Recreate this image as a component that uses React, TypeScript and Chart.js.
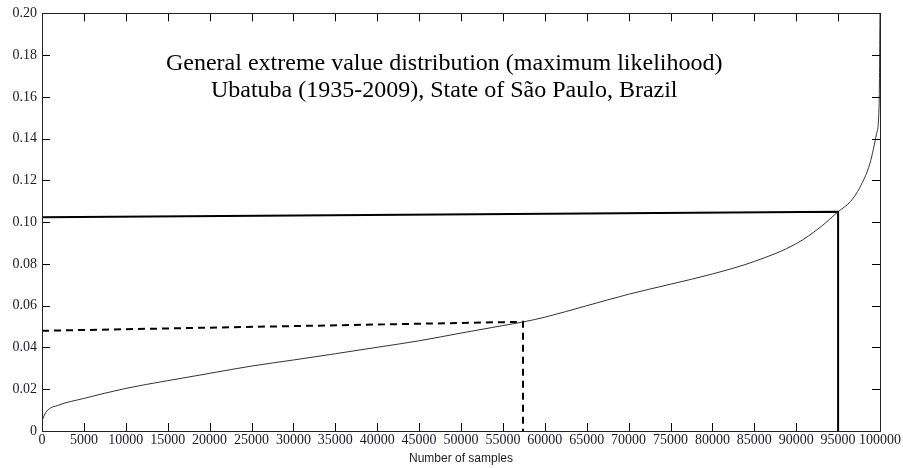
import React, { useEffect, useRef } from "react";
import { Chart, registerables } from "chart.js";

Chart.register(...registerables);

// ---- data ----
const curveX = [0, 500, 2000, 5000, 10000, 15000, 20000, 25000, 30000, 35000, 40000, 45000, 50000, 55000, 57500, 60000, 65000, 70000, 75000, 80000, 85000, 90000, 93000, 95000, 96500, 97600, 98800, 99600, 99900, 100000];
const curveY = [0.005, 0.0092, 0.0124, 0.0156, 0.0204, 0.0241, 0.0276, 0.0311, 0.034, 0.037, 0.0401, 0.0432, 0.0469, 0.0505, 0.0523, 0.0545, 0.06, 0.0655, 0.0703, 0.0752, 0.0812, 0.0897, 0.098, 0.105, 0.11, 0.1167, 0.1282, 0.1426, 0.157, 0.2];

const solidX = [0, 95000, 95000];
const solidY = [0.1024, 0.105, 0];

const dashedX = [0, 57400, 57400];
const dashedY = [0.048, 0.0523, 0];

const xTickStep = 5000;
const yTickStep = 0.02;
const xMax = 100000;
const yMax = 0.2;

const titleLines = [
  "General extreme value distribution (maximum likelihood)",
  "Ubatuba (1935-2009), State of São Paulo, Brazil",
];
const xAxisTitle = "Number of samples";

const toPoints = (xs: number[], ys: number[]) => xs.map((x, i) => ({ x, y: ys[i] }));

const boxPlugin = {
  id: "matlabBox",
  afterDraw(chart: any) {
    const { ctx, chartArea } = chart;
    const xs = chart.scales.x;
    const ys = chart.scales.y;
    const { left, right, top, bottom } = chartArea;
    ctx.save();
    ctx.strokeStyle = "#000";
    ctx.lineWidth = 1;
    // inward ticks
    const tl = 8;
    ctx.beginPath();
    xs.ticks.forEach((t: any) => {
      const px = Math.round(xs.getPixelForValue(t.value)) + 0.5;
      ctx.moveTo(px, bottom);
      ctx.lineTo(px, bottom - tl);
      ctx.moveTo(px, top);
      ctx.lineTo(px, top + tl);
    });
    ys.ticks.forEach((t: any) => {
      const py = Math.round(ys.getPixelForValue(t.value)) + 0.5;
      ctx.moveTo(left, py);
      ctx.lineTo(left + tl, py);
      ctx.moveTo(right, py);
      ctx.lineTo(right - tl, py);
    });
    ctx.stroke();
    // box
    ctx.strokeStyle = "#222";
    ctx.strokeRect(Math.round(left) + 0.5, Math.round(top) + 0.5, Math.round(right - left), Math.round(bottom - top));
    // title
    ctx.fillStyle = "#000";
    ctx.font = "24px 'Liberation Serif'";
    ctx.textAlign = "center";
    ctx.textBaseline = "alphabetic";
    const cx = xs.getPixelForValue(48000);
    ctx.fillText(titleLines[0], cx, 70);
    ctx.fillText(titleLines[1], cx, 97);
    // x axis title
    ctx.font = "12px 'Liberation Sans'";
    ctx.fillStyle = "#222";
    ctx.fillText(xAxisTitle, (left + right) / 2, 462);
    ctx.restore();
  },
};

export default function App() {
  const ref = useRef<HTMLCanvasElement | null>(null);
  useEffect(() => {
    document.body.style.margin = "0";
    const canvas = ref.current!;
    const chart = new Chart(canvas, {
      type: "line",
      data: {
        datasets: [
          {
            data: toPoints(curveX, curveY),
            borderColor: "#333",
            borderWidth: 1,
            pointRadius: 0,
            cubicInterpolationMode: "monotone",
            fill: false,
          },
          {
            data: toPoints(solidX, solidY),
            borderColor: "#000",
            borderWidth: 2,
            pointRadius: 0,
            fill: false,
          },
          {
            data: toPoints(dashedX, dashedY),
            borderColor: "#000",
            borderWidth: 2,
            borderDash: [7, 5],
            pointRadius: 0,
            fill: false,
          },
        ],
      },
      options: {
        animation: false,
        responsive: false,
        parsing: false,
        layout: { padding: { top: 13, right: 23, left: 0, bottom: 0 } },
        plugins: { legend: { display: false }, tooltip: { enabled: false }, title: { display: false } },
        scales: {
          x: {
            type: "linear",
            min: 0,
            max: xMax,
            grid: { display: false, drawTicks: false },
            border: { display: false },
            ticks: {
              stepSize: xTickStep,
              autoSkip: false,
              maxRotation: 0,
              padding: 1,
              color: "#1a1a2a",
              font: { family: "'Liberation Serif'", size: 14 },
              callback: (v: any) => String(v),
            },
            afterFit: (s: any) => {
              s.height = 37;
            },
          },
          y: {
            type: "linear",
            min: 0,
            max: yMax,
            grid: { display: false, drawTicks: false },
            border: { display: false },
            ticks: {
              stepSize: yTickStep,
              autoSkip: false,
              padding: 5,
              color: "#1a1a2a",
              font: { family: "'Liberation Serif'", size: 14 },
              callback: (v: any) => (Math.abs(v) < 1e-9 ? "0" : Number(v).toFixed(2)),
            },
            afterFit: (s: any) => {
              s.width = 42;
            },
          },
        },
      },
      plugins: [boxPlugin],
    });
    return () => chart.destroy();
  }, []);
  return <canvas ref={ref} width={903} height={468} style={{ display: "block", width: 903, height: 468 }} />;
}
